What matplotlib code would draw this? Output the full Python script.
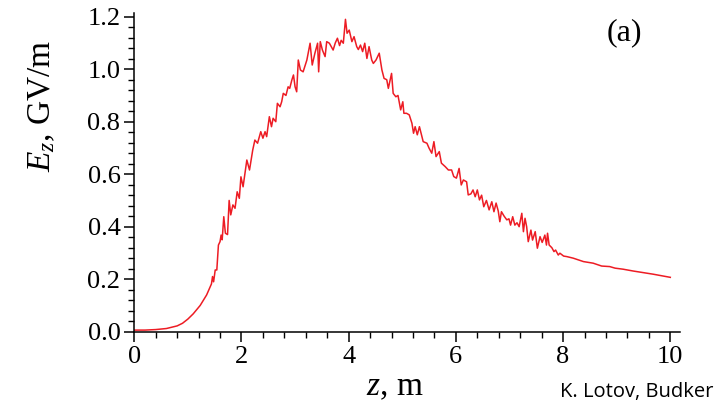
import matplotlib
matplotlib.use("Agg")
import matplotlib.pyplot as plt
from matplotlib.ticker import MultipleLocator

# Поле E_z вдоль плазмы
z_m = [0.0, 0.2, 0.4, 0.6, 0.8, 0.9, 1.0, 1.1, 1.23, 1.35, 1.41, 1.44,
       1.46, 1.48, 1.51, 1.54, 1.57, 1.60, 1.62, 1.64, 1.67, 1.70, 1.74,
       1.77, 1.80, 1.84, 1.88, 1.92, 1.96, 1.99, 2.03, 2.10, 2.15, 2.21,
       2.25, 2.30, 2.36, 2.40, 2.44, 2.47, 2.52, 2.56, 2.59, 2.64, 2.67,
       2.72, 2.75, 2.78, 2.83, 2.87, 2.90, 2.94, 2.97, 3.00, 3.03, 3.06,
       3.10, 3.15, 3.22, 3.28, 3.32, 3.37, 3.42, 3.44, 3.47, 3.51, 3.56,
       3.59, 3.64, 3.69, 3.71, 3.75, 3.79, 3.83, 3.86, 3.90, 3.94, 3.97,
       4.01, 4.06, 4.10, 4.15, 4.18, 4.22, 4.26, 4.30, 4.34, 4.38, 4.43,
       4.46, 4.51, 4.57, 4.62, 4.66, 4.71, 4.74, 4.80, 4.83, 4.88, 4.92,
       4.97, 5.01, 5.03, 5.08, 5.13, 5.18, 5.21, 5.24, 5.28, 5.32, 5.36,
       5.39, 5.46, 5.50, 5.55, 5.59, 5.63, 5.69, 5.73, 5.80, 5.86, 5.92,
       5.96, 6.01, 6.06, 6.10, 6.14, 6.20, 6.23, 6.28, 6.32, 6.36, 6.40,
       6.44, 6.48, 6.52, 6.57, 6.62, 6.67, 6.71, 6.75, 6.79, 6.82, 6.85,
       6.90, 6.95, 6.99, 7.02, 7.06, 7.10, 7.14, 7.18, 7.23, 7.26, 7.29,
       7.32, 7.35, 7.40, 7.43, 7.48, 7.52, 7.57, 7.61, 7.66, 7.69, 7.71,
       7.74, 7.79, 7.83, 7.86, 7.91, 7.94, 8.01, 8.07, 8.19, 8.38, 8.56,
       8.72, 8.87, 8.97, 9.12, 9.31, 9.50, 9.68, 9.87, 10.0]
ez_gv = [0.006, 0.006, 0.008, 0.012, 0.022, 0.032, 0.048, 0.068, 0.100,
         0.140, 0.168, 0.182, 0.210, 0.190, 0.235, 0.235, 0.330, 0.343,
         0.368, 0.350, 0.438, 0.375, 0.370, 0.500, 0.445, 0.483, 0.470,
         0.533, 0.508, 0.590, 0.552, 0.654, 0.616, 0.692, 0.730, 0.718,
         0.762, 0.737, 0.762, 0.743, 0.819, 0.781, 0.813, 0.800, 0.870,
         0.857, 0.876, 0.908, 0.900, 0.933, 0.927, 0.959, 0.978, 0.933,
         0.914, 1.035, 0.997, 0.990, 1.035, 1.099, 1.016, 1.061, 1.099,
         0.990, 1.105, 1.073, 1.048, 1.105, 1.099, 1.080, 1.073, 1.100,
         1.118, 1.090, 1.110, 1.099, 1.190, 1.137, 1.149, 1.105, 1.124,
         1.086, 1.075, 1.092, 1.067, 1.099, 1.041, 1.086, 1.035, 1.022,
         1.035, 1.061, 0.997, 0.965, 0.960, 0.927, 0.984, 0.908, 0.895,
         0.900, 0.845, 0.876, 0.832, 0.832, 0.826, 0.794, 0.756, 0.781,
         0.750, 0.781, 0.749, 0.724, 0.718, 0.699, 0.680, 0.724, 0.667,
         0.686, 0.642, 0.629, 0.616, 0.616, 0.591, 0.585, 0.622, 0.559,
         0.578, 0.571, 0.521, 0.525, 0.540, 0.514, 0.540, 0.502, 0.520,
         0.476, 0.500, 0.464, 0.495, 0.457, 0.490, 0.460, 0.419, 0.457,
         0.440, 0.426, 0.430, 0.406, 0.438, 0.406, 0.415, 0.400, 0.451,
         0.381, 0.432, 0.400, 0.343, 0.387, 0.349, 0.381, 0.318, 0.362,
         0.340, 0.368, 0.330, 0.375, 0.330, 0.320, 0.305, 0.311, 0.292,
         0.299, 0.288, 0.286, 0.280, 0.267, 0.261, 0.250, 0.248, 0.242,
         0.238, 0.231, 0.225, 0.219, 0.212, 0.207]

plt.rcParams['font.family'] = 'Liberation Serif'
plt.rcParams['mathtext.fontset'] = 'custom'
plt.rcParams['mathtext.rm'] = 'Liberation Serif'
plt.rcParams['mathtext.it'] = 'Liberation Serif:italic'

fig = plt.figure(figsize=(7.18, 4.03), dpi=100)
ax = fig.add_axes([0.187, 0.177, 0.760, 0.790])

ax.plot(z_m, ez_gv, color='#ED1C24', linewidth=1.1)

ax.set_xlim(0, 10.18)
ax.set_ylim(0, 1.213)
ax.xaxis.set_major_locator(MultipleLocator(2))
ax.xaxis.set_minor_locator(MultipleLocator(0.4))
ax.yaxis.set_major_locator(MultipleLocator(0.2))
ax.yaxis.set_minor_locator(MultipleLocator(0.04))
ax.yaxis.set_major_formatter(lambda v, p: f"{v:.1f}")

for s in ['top', 'right']:
    ax.spines[s].set_visible(False)
for s in ['left', 'bottom']:
    ax.spines[s].set_linewidth(1.1)

ax.tick_params(which='major', direction='out', length=7, width=1.1,
               labelsize=19, pad=3)
ax.tick_params(which='minor', direction='out', length=4, width=1.0)

fig.text(0.058, 0.737, r'$E_z$, GV/m', rotation=90, ha='center',
         va='center', fontsize=24)
fig.text(0.550, 0.020, r'$z$, m', ha='center', va='baseline', fontsize=24)
fig.text(0.870, 0.918, '(a)', ha='center', va='center', fontsize=23)
fig.text(0.993, 0.015, 'K. Lotov, Budker', ha='right', va='baseline',
         fontsize=14.5, family='Open Sans')

fig.savefig('out.png', dpi=100)
